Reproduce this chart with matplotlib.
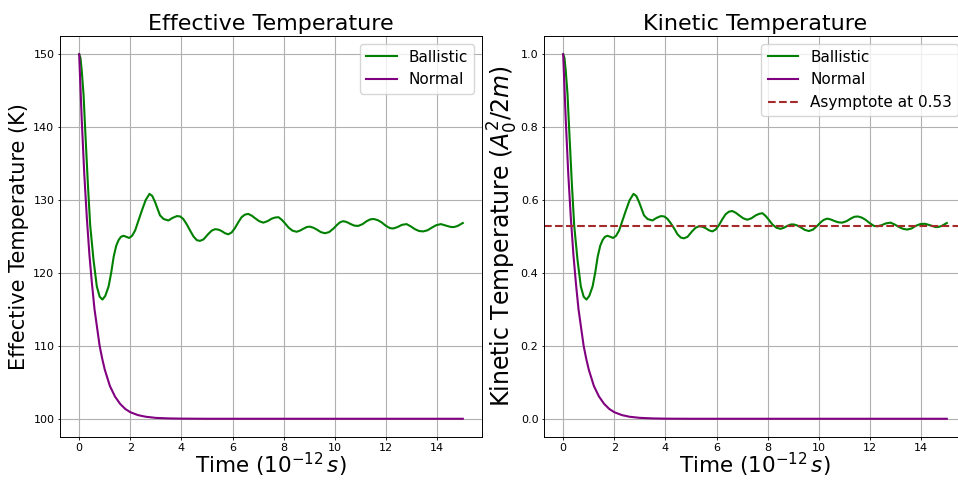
import matplotlib
matplotlib.use("Agg")
import matplotlib.pyplot as plt

# --- data ---
t_ball = [0, 0.05, 0.1, 0.17, 0.23, 0.34, 0.43, 0.56, 0.69, 0.8, 0.91, 1.02, 1.15, 1.25, 1.35,
          1.45, 1.54, 1.63, 1.73, 1.85, 1.95, 2.07, 2.19, 2.3, 2.45, 2.6, 2.75, 2.86, 2.97, 3.07,
          3.16, 3.3, 3.49, 3.65, 3.82, 3.95, 4.07, 4.2, 4.34, 4.47, 4.6, 4.72, 4.86, 5.05, 5.18,
          5.31, 5.44, 5.57, 5.7, 5.83, 5.96, 6.09, 6.22, 6.35, 6.48, 6.61, 6.75, 6.88, 7.04, 7.2,
          7.36, 7.53, 7.66, 7.79, 7.92, 8.05, 8.18, 8.34, 8.5, 8.63, 8.76, 8.9, 9.02, 9.16, 9.29,
          9.45, 9.61, 9.77, 9.93, 10.1, 10.2, 10.32, 10.45, 10.59, 10.75, 10.91, 11.08, 11.24,
          11.38, 11.52, 11.67, 11.82, 12.0, 12.15, 12.28, 12.45, 12.62, 12.8, 12.96, 13.13,
          13.29, 13.45, 13.62, 13.78, 13.96, 14.14, 14.29, 14.43, 14.55, 14.66, 14.8, 15.0]

eff_ball = [150, 149.5, 147.75, 144.5, 140, 132.2, 126.55, 121.8, 118.15, 116.75, 116.35, 116.85,
            118.15, 120, 122.25, 123.75, 124.5, 124.95, 125.1, 124.95, 124.8, 125.1, 125.85, 127,
            128.55, 130, 130.85, 130.55, 129.7, 128.75, 127.9, 127.4, 127.2, 127.55, 127.8, 127.75,
            127.4, 126.7, 125.8, 125.0, 124.5, 124.4, 124.6, 125.35, 125.8, 126.0, 125.95,
            125.75, 125.45, 125.3, 125.55, 126.15, 126.95, 127.65, 128.0, 128.1, 127.85, 127.5,
            127.1, 126.9, 127.1, 127.45, 127.6, 127.65, 127.3, 126.8, 126.25, 125.8, 125.65, 125.8,
            126.05, 126.3, 126.35, 126.2, 125.95, 125.6, 125.45, 125.6, 126.05, 126.65, 126.95,
            127.1, 127.0, 126.75, 126.5, 126.45, 126.7, 127.1, 127.35, 127.4, 127.25, 126.95,
            126.45, 126.15, 126.1, 126.3, 126.6, 126.7, 126.4, 126.0, 125.75, 125.7, 125.85,
            126.2, 126.55, 126.7, 126.55, 126.4, 126.3, 126.3, 126.45, 126.85]

kin_ball = [1.0, 0.99, 0.955, 0.89, 0.80, 0.644, 0.531, 0.436, 0.363, 0.335, 0.327, 0.337, 0.363,
            0.40, 0.445, 0.475, 0.49, 0.499, 0.502, 0.499, 0.496, 0.502, 0.517, 0.540, 0.571,
            0.600, 0.617, 0.611, 0.594, 0.575, 0.558, 0.548, 0.544, 0.551, 0.556, 0.555, 0.549,
            0.537, 0.522, 0.506, 0.497, 0.495, 0.499, 0.515, 0.524, 0.528, 0.527, 0.523, 0.517,
            0.514, 0.519, 0.531, 0.547, 0.561, 0.568, 0.570, 0.565, 0.558, 0.550, 0.546, 0.550,
            0.558, 0.562, 0.564, 0.556, 0.545, 0.533, 0.524, 0.521, 0.524, 0.529, 0.533, 0.533,
            0.530, 0.525, 0.518, 0.515, 0.519, 0.529, 0.541, 0.546, 0.549, 0.547, 0.543, 0.539,
            0.538, 0.542, 0.549, 0.554, 0.555, 0.552, 0.546, 0.536, 0.529, 0.528, 0.531, 0.536,
            0.538, 0.533, 0.526, 0.521, 0.519, 0.522, 0.529, 0.534, 0.535, 0.532, 0.529, 0.526,
            0.526, 0.529, 0.537]

t_norm = [0, 0.1, 0.2, 0.3, 0.4, 0.5, 0.6, 0.7, 0.8, 0.9, 1.0, 1.2, 1.4, 1.6, 1.8, 2.0, 2.3,
          2.6, 3.0, 3.5, 4.0, 5.0, 6.0, 8.0, 10.0, 12.0, 15.0]
eff_norm = [150, 141, 133.5, 127.5, 122.5, 118.5, 115, 112.5, 110, 108.25, 106.75, 104.5, 103.05,
            102.05, 101.35, 100.9, 100.5, 100.28, 100.12, 100.05, 100.02, 100, 100, 100, 100, 100,
            100]
kin_norm = [1.0, 0.82, 0.67, 0.55, 0.45, 0.37, 0.30, 0.25, 0.20, 0.165, 0.135, 0.09, 0.061, 0.041,
            0.027, 0.018, 0.01, 0.0055, 0.0025, 0.001, 0.0003, 0, 0, 0, 0, 0, 0]

asymptote = 0.53

W, H = 958, 480
fig = plt.figure(figsize=(W / 100, H / 100), dpi=100)
ax1 = fig.add_axes([60 / W, 43 / H, 422 / W, 401 / H])
ax2 = fig.add_axes([544 / W, 43 / H, 422 / W, 401 / H])


def style(ax):
    ax.grid(True)
    ax.tick_params(labelsize=8, length=1.8, width=0.6, pad=2.2)
    for s in ax.spines.values():
        s.set_linewidth(0.7)


ax1.plot(t_ball, eff_ball, color="green", lw=1.5, label="Ballistic")
ax1.plot(t_norm, eff_norm, color="purple", lw=1.5, label="Normal")
ax1.set_title("Effective Temperature", fontsize=16, pad=4)
ax1.set_xlabel(r"Time ($10^{-12}\,s$)", fontsize=15.5, labelpad=-1)
ax1.set_ylabel("Effective Temperature (K)", fontsize=15, labelpad=3)
ax1.legend(loc="upper right", fontsize=11)
style(ax1)

ax2.plot(t_ball, kin_ball, color="green", lw=1.5, label="Ballistic")
ax2.plot(t_norm, kin_norm, color="purple", lw=1.5, label="Normal")
ax2.axhline(asymptote, color="brown", ls="--", lw=1.5, label=f"Asymptote at {asymptote}")
ax2.set_title("Kinetic Temperature", fontsize=16, pad=4)
ax2.set_xlabel(r"Time ($10^{-12}\,s$)", fontsize=15.5, labelpad=-1)
ax2.set_ylabel(r"Kinetic Temperature ($A_0^2/2m$)", fontsize=17, labelpad=0.5)
ax2.legend(loc="upper right", fontsize=11)
style(ax2)

fig.savefig("out.png", dpi=100)
